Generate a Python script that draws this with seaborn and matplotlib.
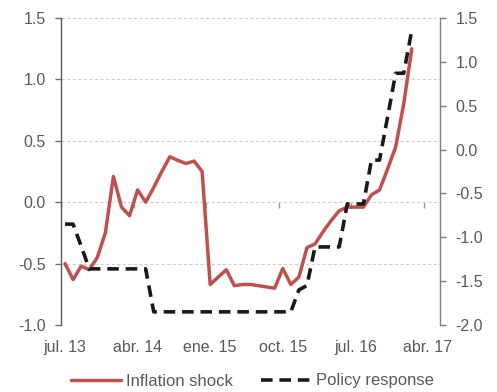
import numpy as np
import pandas as pd
import matplotlib
matplotlib.use("Agg")
import matplotlib.pyplot as plt
import seaborn as sns

# Monthly categories, jul 2013 .. may 2017
months = pd.period_range("2013-07", "2017-05", freq="M")
tick_labels = ["jul. 13", "abr. 14", "ene. 15", "oct. 15", "jul. 16", "abr. 17"]

inflation_shock = [
    -0.50, -0.63, -0.52, -0.55, -0.45, -0.25, 0.21, -0.04, -0.11, 0.10,
    0.00, 0.12, 0.25, 0.37, 0.34, 0.315, 0.335, 0.25, -0.67, -0.61,
    -0.55, -0.68, -0.67, -0.67, -0.68, -0.69, -0.70, -0.54, -0.67, -0.61,
    -0.37, -0.34, -0.24, -0.15, -0.07, -0.04, -0.04, -0.04, 0.06, 0.10,
    0.27, 0.45, 0.80, 1.25,
]
policy_response = [
    -0.85, -0.85, -1.10, -1.36, -1.36, -1.36, -1.36, -1.36, -1.36, -1.36,
    -1.36, -1.85, -1.85, -1.85, -1.85, -1.85, -1.85, -1.85, -1.85, -1.85,
    -1.85, -1.85, -1.85, -1.85, -1.85, -1.85, -1.85, -1.85, -1.85, -1.60,
    -1.55, -1.11, -1.11, -1.11, -1.11, -0.62, -0.62, -0.62, -0.12, -0.12,
    0.37, 0.87, 0.87, 1.36,
]

df = pd.DataFrame({
    "pos": np.arange(len(inflation_shock)),
    "inflation": inflation_shock,
    "policy": policy_response,
})

sns.set_style("white")
plt.rcParams["font.family"] = ["Liberation Sans", "DejaVu Sans"]

TXT = "#595959"
RED = "#C0504D"
FS = 11.5

fig = plt.figure(figsize=(4.97, 3.92), dpi=100)
ax = fig.add_axes([61 / 497, 67 / 392, (440 - 61) / 497, (325 - 18) / 392])
ax2 = ax.twinx()

sns.lineplot(data=df, x="pos", y="inflation", ax=ax, color=RED, lw=2.5,
             label="Inflation shock", legend=False)
sns.lineplot(data=df, x="pos", y="policy", ax=ax2, color="#1a1a1a", lw=2.6,
             label="Policy response", legend=False)
ax2.lines[0].set_linestyle((0, (3.2, 1.9)))

n = len(months)
ax.set_xlim(-0.5, n - 0.5)
ax.set_ylim(-1.0, 1.5)
ax2.set_ylim(-2.0, 1.5)
ax.set_yticks(np.arange(-1.0, 1.51, 0.5))
ax2.set_yticks(np.arange(-2.0, 1.51, 0.5))
ax.set_yticklabels([f"{v:.1f}" for v in np.arange(-1.0, 1.51, 0.5)])
ax2.set_yticklabels([f"{v:.1f}" for v in np.arange(-2.0, 1.51, 0.5)])

# horizontal gridlines on the left scale
ax.yaxis.grid(True, color="#d0d0d0", lw=0.8, ls=(0, (3, 2)))
ax.xaxis.grid(False)
ax.set_axisbelow(True)

# category labels every 9 months along the bottom
ax.set_xticks(np.arange(0, n, 9))
ax.set_xticklabels(tick_labels)
ax.tick_params(axis="x", length=0, pad=11, labelsize=FS, labelcolor=TXT)
ax.set_xlabel("")
ax.set_ylabel("")
ax2.set_ylabel("")

ax.tick_params(axis="y", length=4, width=1, color="#6e6e6e", pad=7,
               labelsize=FS, labelcolor=TXT, direction="out", left=True)
ax2.tick_params(axis="y", length=4, width=1, color="#7f7f7f", pad=7,
                labelsize=FS, labelcolor=TXT, direction="out", right=True)

for a in (ax, ax2):
    a.spines["top"].set_visible(False)
    a.spines["bottom"].set_visible(False)
ax.spines["left"].set_color("#5a5a5a")
ax.spines["left"].set_linewidth(1.0)
ax.spines["right"].set_visible(False)
ax2.spines["left"].set_visible(False)
ax2.spines["right"].set_color("#7f7f7f")
ax2.spines["right"].set_linewidth(1.0)

# category-boundary tick marks hanging from the zero line
zero_frac = (0 - (-1.0)) / (1.5 - (-1.0))
sec = ax.secondary_xaxis(zero_frac)
sec.set_xticks(np.arange(-0.5, n, 9))
sec.tick_params(axis="x", length=4, width=1, color="#9a9a9a",
                direction="out", labelbottom=False, labeltop=False)
sec.spines["bottom"].set_visible(False)
sec.spines["top"].set_visible(False)

handles = ax.get_lines()[:1] + ax2.get_lines()[:1]
fig.legend(handles, ["Inflation shock", "Policy response"],
           loc="center", bbox_to_anchor=(0.508, 1 - 381 / 392), ncol=2,
           frameon=False, fontsize=12, handlelength=3.0,
           handletextpad=0.3, columnspacing=1.7, labelcolor=TXT)

fig.savefig("out.png", dpi=100)
